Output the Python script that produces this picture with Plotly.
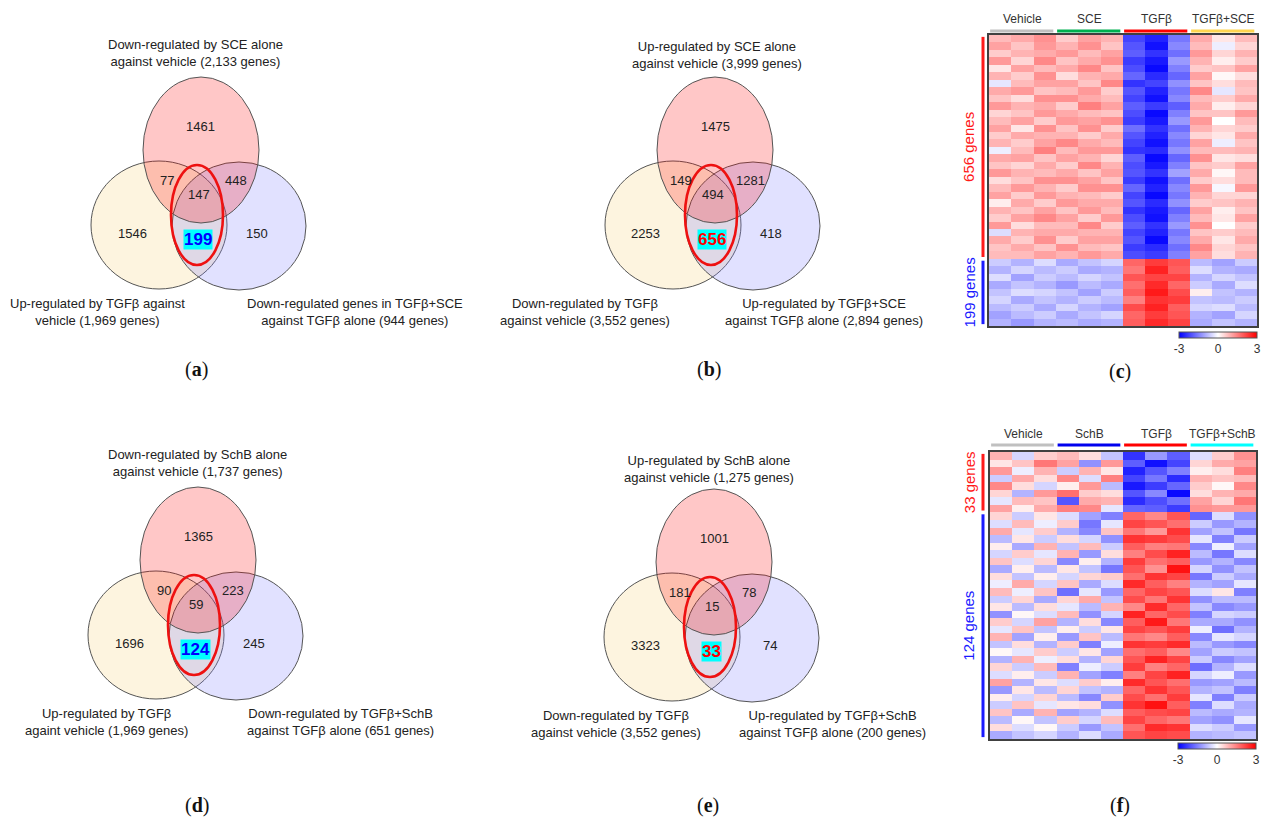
import plotly.graph_objects as go

W, H = 1264, 819


def X(px):
    return px / W


def Y(py):
    return 1 - py / H


# ------------------------------------------------------------------ data
# Venn counts: [top only, top&left, top&right, all three, left only, right only, left&right (highlight)]
VENN_A_LABELS = ["Down-regulated by SCE alone<br>against vehicle (2,133 genes)",
                 "Up-regulated by TGFβ against<br>vehicle (1,969 genes)",
                 "Down-regulated genes in TGFβ+SCE<br>against TGFβ alone (944 genes)"]
VENN_A_COUNTS = [1461, 77, 448, 147, 1546, 150, 199]

VENN_B_LABELS = ["Up-regulated by SCE alone<br>against vehicle (3,999 genes)",
                 "Down-regulated by TGFβ<br>against vehicle (3,552 genes)",
                 "Up-regulated by TGFβ+SCE<br>against TGFβ alone (2,894 genes)"]
VENN_B_COUNTS = [1475, 149, 1281, 494, 2253, 418, 656]

VENN_D_LABELS = ["Down-regulated by SchB alone<br>against vehicle (1,737 genes)",
                 "Up-regulated by TGFβ<br>againt vehicle (1,969 genes)",
                 "Down-regulated by TGFβ+SchB<br>against TGFβ alone (651 genes)"]
VENN_D_COUNTS = [1365, 90, 223, 59, 1696, 245, 124]

VENN_E_LABELS = ["Up-regulated by SchB alone<br>against vehicle (1,275 genes)",
                 "Down-regulated by TGFβ<br>against vehicle (3,552 genes)",
                 "Up-regulated by TGFβ+SchB<br>against TGFβ alone (200 genes)"]
VENN_E_COUNTS = [1001, 181, 78, 15, 3323, 74, 33]

PANEL_LETTERS = ["a", "b", "c", "d", "e", "f"]

HM_C_GROUPS = ["Vehicle", "SCE", "TGFβ", "TGFβ+SCE"]
HM_C_GENE_LABELS = ["656 genes", "199 genes"]
HM_C_UP = [
    [0.8, 1.0, 1.3, 0.6, 1.1, 0.9, -2.2, -2.6, -1.6, 1.0, 0.3, 0.8],
    [1.1, 0.7, 1.2, 0.9, 1.3, 0.7, -2.0, -2.8, -1.4, 0.8, -0.2, 0.5],
    [0.6, 0.9, 1.0, 1.2, 0.8, 1.1, -1.9, -2.4, -1.7, 1.2, 0.5, 0.9],
    [1.2, 0.5, 1.4, 0.7, 1.0, 1.3, -2.3, -2.7, -1.2, 0.9, 0.2, 0.6],
    [0.3, 1.1, 0.8, 1.0, 1.4, 0.7, -2.1, -2.9, -1.5, 0.6, 0.7, 1.1],
    [0.9, 0.6, 1.3, 0.4, 0.9, 1.0, -1.8, -2.5, -1.8, 1.1, 0.1, 0.4],
    [-0.3, 0.8, 1.1, 1.1, 0.7, 1.4, -2.4, -2.2, -1.3, 0.7, 0.4, 0.8],
    [1.0, 1.2, 0.7, 0.8, 1.2, 0.6, -2.0, -2.6, -1.6, 1.4, -0.3, 0.7],
    [0.7, 0.4, 1.3, 1.3, 1.0, 0.8, -2.2, -2.8, -1.4, 0.8, 0.6, 1.0],
    [1.2, 0.9, 1.0, 0.6, 1.5, 1.1, -1.9, -2.3, -1.9, 1.0, 0.2, 0.5],
    [0.5, 0.7, 1.2, 1.0, 0.8, 0.7, -2.1, -2.9, -1.5, 0.7, 0.7, 1.2],
    [0.8, 1.1, 0.6, 1.2, 1.1, 1.3, -2.3, -2.7, -1.2, 1.2, 0.0, 0.8],
    [1.1, 0.3, 1.3, 0.7, 1.3, 0.6, -1.7, -2.4, -1.7, 0.9, 0.5, 0.6],
    [0.6, 1.0, 0.9, 0.9, 0.6, 1.0, -2.0, -2.6, -1.4, 0.5, 0.3, 1.0],
    [0.9, 0.6, 1.1, 1.4, 1.0, 0.8, -2.2, -2.8, -1.6, 1.1, -0.2, 0.7],
    [-0.2, 0.8, 1.5, 0.8, 1.2, 1.2, -2.4, -2.5, -1.3, 0.8, 0.8, 0.9],
    [1.0, 1.1, 0.7, 1.1, 0.9, 0.5, -1.9, -2.9, -1.8, 1.3, 0.3, 0.4],
    [0.7, 0.5, 1.0, 0.6, 1.4, 0.9, -2.1, -2.7, -1.5, 0.7, 0.6, 1.1],
    [1.2, 0.9, 0.8, 1.0, 0.7, 1.1, -2.0, -2.4, -1.1, 1.0, 0.1, 0.8],
    [0.4, 0.7, 1.3, 1.3, 1.1, 0.7, -2.3, -2.8, -1.7, 0.6, 0.4, 0.8],
    [0.8, 1.2, 0.9, 0.6, 1.3, 1.3, -1.8, -2.6, -1.4, 1.2, -0.1, 1.2],
    [1.1, 0.6, 1.2, 0.9, 0.8, 0.6, -2.2, -2.9, -1.6, 0.9, 0.5, 0.5],
    [0.2, 1.0, 0.6, 1.2, 1.0, 1.0, -2.0, -2.5, -1.3, 0.6, 0.7, 0.9],
    [0.9, 0.7, 1.1, 0.7, 1.2, 0.8, -2.4, -2.7, -1.8, 1.1, 0.2, 0.7],
    [0.6, 1.1, 1.4, 1.1, 0.6, 1.2, -2.1, -2.8, -1.5, 0.8, 0.3, 1.1],
    [1.2, 0.4, 0.8, 0.8, 1.4, 0.6, -1.9, -2.4, -1.2, 1.3, 0.0, 0.6],
    [-0.4, 0.9, 1.0, 1.0, 0.9, 0.9, -2.2, -2.6, -1.6, 0.7, 0.6, 0.8],
    [1.0, 0.6, 1.3, 0.6, 1.1, 1.1, -2.0, -2.9, -1.4, 1.0, 0.3, 1.0],
    [0.7, 1.0, 0.7, 1.3, 0.8, 0.7, -2.3, -2.5, -1.7, 1.4, 0.5, 0.7],
    [0.8, 0.8, 1.1, 0.9, 1.2, 1.0, -2.1, -2.3, -1.5, 1.1, 0.4, 0.9],
]
HM_C_DOWN = [
    [-0.6, -0.9, -0.4, -1.0, -0.7, -0.5, 1.8, 2.3, 2.0, -0.8, -1.1, -0.6],
    [-0.9, -0.5, -0.8, -0.6, -1.0, -0.9, 1.6, 2.6, 1.9, -0.4, -0.9, -1.0],
    [-0.4, -1.1, -0.6, -0.8, -0.5, -0.7, 2.0, 2.2, 2.2, -0.9, -0.5, -0.7],
    [-1.0, -0.7, -0.9, -1.2, -0.8, -1.0, 1.7, 2.5, 1.8, -0.6, -1.0, -0.4],
    [-0.7, -0.4, -0.5, -0.7, -1.1, -0.6, 1.9, 2.7, 2.1, 0.2, -0.7, -0.9],
    [-0.5, -1.0, -0.7, -0.9, -0.6, -0.8, 1.5, 2.4, 2.3, -0.7, -0.8, -0.6],
    [-0.8, -0.6, -1.0, -0.5, -0.9, -1.1, 2.1, 2.6, 1.9, -0.5, -0.4, -0.8],
    [-1.1, -0.8, -0.6, -1.0, -0.7, -0.5, 1.8, 2.3, 2.0, -0.9, -1.1, -0.5],
    [-0.9, -1.2, -0.9, -0.8, -1.0, -0.9, 1.9, 2.5, 2.2, -1.0, -0.7, -0.9],
]

HM_F_GROUPS = ["Vehicle", "SchB", "TGFβ", "TGFβ+SchB"]
HM_F_GENE_LABELS = ["33 genes", "124 genes"]
HM_F_UP = [
    [0.9, -0.5, 0.6, 0.8, 0.4, -0.7, -2.4, -1.2, -1.9, -0.4, 0.6, 1.3],
    [0.3, 0.7, 1.6, 1.1, -1.3, 1.2, -1.9, -2.8, -2.2, 0.5, 1.0, 1.1],
    [1.2, -0.2, 0.9, -0.6, 0.9, 0.3, -2.6, -2.0, -1.5, 0.2, 0.4, 1.5],
    [-0.6, 1.0, 0.4, 1.4, -0.4, 1.5, -2.2, -1.6, -2.5, 0.9, 0.7, 0.8],
    [1.4, 0.4, -0.5, 0.2, 1.2, -0.8, -2.7, -2.3, -1.8, 0.6, 0.1, 1.4],
    [0.5, -0.9, 1.2, 1.7, 0.6, 0.4, -2.0, -1.4, -2.9, 0.4, 0.9, 1.0],
    [-0.3, 0.8, 0.7, -2.0, 1.0, 0.9, -2.5, -2.1, -1.7, 1.1, 0.5, 1.6],
    [1.1, 0.2, 1.0, 1.5, 1.4, -0.3, -1.8, -1.9, -2.3, 1.3, 1.2, 1.2],
]
HM_F_DOWN = [
    [0.5, -0.6, 0.3, -0.4, -1.1, -1.5, 1.8, 1.4, 2.0, -1.8, -0.4, -1.3],
    [-0.4, 0.8, -0.2, 0.6, -1.6, -0.3, 2.2, 2.0, 1.7, -0.6, -1.2, -0.9],
    [1.0, -0.3, 0.6, -0.9, -1.4, 0.7, 1.6, 1.2, 2.4, -1.1, -0.7, -1.6],
    [-0.8, 0.3, -0.6, 0.4, -0.5, -1.3, 2.4, 2.3, 2.1, -0.3, -1.5, -0.6],
    [0.2, -1.0, 0.9, -0.7, 0.8, -0.6, 1.9, 1.5, 1.6, -1.4, -0.2, -1.1],
    [-0.5, 0.6, -0.3, 0.9, -1.2, 0.4, 1.5, 2.1, 2.6, -0.8, -1.6, -0.4],
    [0.7, -0.4, 0.5, -1.4, 0.2, -0.9, 2.3, 1.7, 1.9, -1.2, -0.9, -1.4],
    [-1.0, 0.2, -0.8, 0.3, -0.7, -1.6, 2.0, 1.3, 2.8, -0.5, -1.3, -0.7],
    [0.4, -0.7, 0.2, -0.5, 0.5, 0.6, 1.7, 2.4, 2.2, -1.6, -0.6, -1.0],
    [-0.2, 1.0, -0.5, 0.7, -1.0, -0.4, 2.5, 1.9, 1.5, -0.9, -1.1, -0.3],
    [0.8, -0.2, 0.7, -1.7, -0.3, -1.2, 1.8, 2.2, 2.0, -0.4, 0.3, -1.5],
    [-0.6, 0.5, -1.0, 0.5, 1.0, -0.7, 2.1, 1.6, 2.4, -1.3, -0.8, -0.8],
    [0.3, -0.8, 0.4, -0.3, -0.8, 0.9, 1.4, 2.5, 1.8, -0.7, -1.4, -1.2],
    [-1.3, 0.1, -0.4, 0.8, -1.3, -0.5, 2.6, 1.8, 2.1, -1.5, -0.5, -0.6],
    [0.6, -0.5, 1.1, -0.9, 0.4, -1.4, 1.9, 2.7, 1.6, -1.0, -1.0, -1.3],
    [-0.3, 0.7, -0.7, 0.2, -0.6, 0.3, 2.2, 2.0, 2.3, -0.2, -1.7, -0.9],
    [0.9, -1.1, 0.2, -1.2, 0.7, -0.8, 1.6, 1.4, 1.9, -1.4, -0.3, -0.5],
    [-0.7, 0.4, -0.9, 0.6, -1.5, -0.2, 2.4, 2.3, 2.5, -0.8, -1.2, -1.4],
    [0.1, -0.3, 0.6, -0.6, 0.3, -1.1, 1.7, 1.9, 1.4, -1.1, -0.6, -0.7],
    [-0.9, 0.9, -0.2, 0.4, -0.9, 0.5, 2.0, 2.6, 2.2, -0.6, -1.4, -1.1],
    [0.5, -0.6, 0.8, -1.5, -0.2, -0.6, 2.3, 1.5, 1.8, -1.7, -0.9, -0.4],
    [-0.4, 0.2, -0.6, 0.9, -1.1, -1.5, 1.5, 2.2, 2.6, -0.5, -0.2, -1.2],
    [1.1, -0.9, 0.3, -0.4, 0.6, 0.2, 2.5, 2.0, 1.7, -1.2, -1.1, -0.8],
    [-1.2, 0.3, -0.8, 0.5, -0.7, -0.9, 1.8, 2.4, 2.0, -0.9, -0.7, -1.5],
    [0.2, -0.5, 0.5, -0.8, -1.4, 0.6, 2.1, 1.7, 2.3, -0.3, -1.5, -0.6],
    [-0.6, 0.7, -0.3, 0.3, 0.4, -1.3, 2.4, 2.8, 1.9, -1.5, -0.4, -1.0],
    [0.7, -1.0, 0.9, -1.1, -0.9, -0.4, 1.9, 2.1, 2.2, -0.8, -1.0, -0.9],
    [-0.8, 0.1, -0.7, 0.6, -0.5, 0.8, 2.2, 1.8, 1.6, -1.1, -1.3, -0.3],
    [0.4, -0.4, 0.1, -0.6, -1.2, -0.7, 1.7, 2.5, 2.4, -0.4, -0.6, -1.2],
    [-1.0, -0.7, -0.5, -0.9, -0.4, -1.0, 2.0, 2.2, 2.1, -0.9, -0.8, -0.7],
]
COLOR_TICKS = [-3, 0, 3]

# ------------------------------------------------------------------ styles
SANS = "Arial, Liberation Sans, sans-serif"
SERIF = "Times New Roman, Liberation Serif, serif"
TXT = "#222222"

fig = go.Figure()
shapes = []
annotations = []


def note(x, y, text, xref="paper", yref="paper", **kw):
    d = dict(x=x, y=y, xref=xref, yref=yref, text=text, showarrow=False,
             xanchor="center", yanchor="middle")
    d.update(kw)
    annotations.append(d)


# Venn geometry relative to the centre of the top ellipse (layout, pixels)
TOP_E = (0, 0, 58, 73)
LEFT_E = (-42, 75, 68, 64)
RIGHT_E = (38, 76, 67, 64)
RED_E = (-4, 65, 26, 50)
NUM_POS = [(0, -24), (-34, 30), (35, 30), (-2, 44), (-69, 83), (56, 83), (-3, 89)]

venn_panels = [
    dict(labels=VENN_A_LABELS, counts=VENN_A_COUNTS, c=(201, 150), hl="#0000ff",
         top=(-6, -97), bl=(-104, 162), br=(154, 162), letter=PANEL_LETTERS[0], lp=(196, 370)),
    dict(labels=VENN_B_LABELS, counts=VENN_B_COUNTS, c=(715, 150), hl="#ff0000",
         top=(2, -95), bl=(-130, 162), br=(109, 162), letter=PANEL_LETTERS[1], lp=(709, 370)),
    dict(labels=VENN_D_LABELS, counts=VENN_D_COUNTS, c=(198, 560), hl="#0000ff",
         top=(-1, -97), bl=(-92, 162), br=(142, 162), letter=PANEL_LETTERS[3], lp=(197, 805)),
    dict(labels=VENN_E_LABELS, counts=VENN_E_COUNTS, c=(714, 562), hl="#ff0000",
         top=(-5, -93), bl=(-98, 162), br=(118, 162), letter=PANEL_LETTERS[4], lp=(708, 805)),
]


def ellipse(cx, cy, rx, ry, fill, line, width):
    return dict(type="circle", xref="paper", yref="paper",
                x0=X(cx - rx), x1=X(cx + rx), y0=Y(cy + ry), y1=Y(cy - ry),
                fillcolor=fill, line=dict(color=line, width=width), layer="above")


for p in venn_panels:
    cx, cy = p["c"]
    for (dx, dy, rx, ry), fill in [(LEFT_E, "rgba(250,220,150,0.30)"),
                                   (RIGHT_E, "rgba(128,128,255,0.24)"),
                                   (TOP_E, "rgba(255,0,0,0.22)")]:
        shapes.append(ellipse(cx + dx, cy + dy, rx, ry, fill, "#555555", 1))
    dx, dy, rx, ry = RED_E
    shapes.append(ellipse(cx + dx, cy + dy, rx, ry, "rgba(0,0,0,0)", "#ee1111", 2.6))

    for i, (val, (nx, ny)) in enumerate(zip(p["counts"], NUM_POS)):
        if i == 6:
            note(X(cx + nx), Y(cy + ny), f"<b>{val}</b>", bgcolor="#00ffff", borderpad=0,
                 font=dict(family=SANS, size=17, color=p["hl"]))
        else:
            note(X(cx + nx), Y(cy + ny), str(val), font=dict(family=SANS, size=13, color=TXT))
    for lab, key in zip(p["labels"], ["top", "bl", "br"]):
        ox, oy = p[key]
        note(X(cx + ox), Y(cy + oy), lab, align="center",
             font=dict(family=SANS, size=13, color=TXT))
    lx, ly = p["lp"]
    note(X(lx), Y(ly), f"(<b>{p['letter']}</b>)", font=dict(family=SERIF, size=20, color="#111111"))

# ------------------------------------------------------------------ heatmaps
COLORSCALE = [[0, "#0000ff"], [0.5, "#ffffff"], [1, "#ff0000"]]

heat_panels = [
    dict(up=HM_C_UP, down=HM_C_DOWN, groups=HM_C_GROUPS, genes=HM_C_GENE_LABELS,
         xs="x", ys="y", xa="xaxis", ya="yaxis", xd=(989, 1257), yd=(35, 326),
         head_y=19, bar_y=31, bar_colors=["#c0c0c0", "#00b050", "#ff0000", "#ffd54f"],
         cb=(1179, 332), letter=PANEL_LETTERS[2], lp=(1120, 372)),
    dict(up=HM_F_UP, down=HM_F_DOWN, groups=HM_F_GROUPS, genes=HM_F_GENE_LABELS,
         xs="x2", ys="y2", xa="xaxis2", ya="yaxis2", xd=(990, 1256), yd=(452, 739),
         head_y=434, bar_y=445, bar_colors=["#c0c0c0", "#0000ee", "#ff0000", "#00ffff"],
         cb=(1178, 743), letter=PANEL_LETTERS[5], lp=(1120, 805)),
]

layout_axes = {}
for hp in heat_panels:
    z = hp["up"] + hp["down"]
    n_up = len(hp["up"])
    n_all = len(z)
    ncol = len(z[0])
    fig.add_trace(go.Heatmap(
        z=z, x=list(range(ncol)), y=list(range(n_all)),
        xaxis=hp["xs"], yaxis=hp["ys"],
        colorscale=COLORSCALE, zmin=-3, zmax=3, hoverinfo="skip",
        colorbar=dict(orientation="h", x=X(hp["cb"][0]), xanchor="left",
                      y=Y(hp["cb"][1]), yanchor="top",
                      len=78, lenmode="pixels", thickness=6, thicknessmode="pixels",
                      xpad=0, ypad=0, tickvals=COLOR_TICKS,
                      ticktext=[str(t) for t in COLOR_TICKS], ticks="",
                      tickfont=dict(family=SANS, size=12, color="#333333"),
                      outlinewidth=1, outlinecolor="#555555"),
    ))
    layout_axes[hp["xa"]] = dict(domain=[X(hp["xd"][0]), X(hp["xd"][1])], anchor=hp["ys"],
                                 showticklabels=False, ticks="", showgrid=False, zeroline=False,
                                 showline=True, mirror=True, linecolor="#404040", linewidth=2,
                                 range=[-0.5, ncol - 0.5])
    layout_axes[hp["ya"]] = dict(domain=[Y(hp["yd"][1]), Y(hp["yd"][0])], anchor=hp["xs"],
                                 showticklabels=False, ticks="", showgrid=False, zeroline=False,
                                 showline=True, mirror=True, linecolor="#404040", linewidth=2,
                                 range=[n_all - 0.5, -0.5])
    # group header labels and colored bars
    per = ncol // len(hp["groups"])
    for g, (name, col) in enumerate(zip(hp["groups"], hp["bar_colors"])):
        x0 = g * per - 0.5
        x1 = x0 + per
        note((x0 + x1) / 2, Y(hp["head_y"]), name, xref=hp["xs"],
             font=dict(family=SANS, size=12, color="#333333"))
        shapes.append(dict(type="line", xref=hp["xs"], yref="paper",
                           x0=x0 + 0.05, x1=x1 - 0.12, y0=Y(hp["bar_y"]), y1=Y(hp["bar_y"]),
                           line=dict(color=col, width=3)))
    # gene group side bars and labels
    spans = [(-0.5, n_up - 0.5, "#ff1a1a"), (n_up - 0.5, n_all - 0.5, "#1a1aff")]
    for (y0, y1, col), lab in zip(spans, hp["genes"]):
        shapes.append(dict(type="line", xref="paper", yref=hp["ys"],
                           x0=X(983), x1=X(983), y0=y0 + 0.25, y1=y1 - 0.25,
                           line=dict(color=col, width=3)))
        note(X(969), (y0 + y1) / 2, lab, yref=hp["ys"], textangle=-90,
             font=dict(family=SANS, size=15, color=col))
    lx, ly = hp["lp"]
    note(X(lx), Y(ly), f"(<b>{hp['letter']}</b>)", font=dict(family=SERIF, size=20, color="#111111"))

fig.update_layout(
    width=W, height=H, margin=dict(l=0, r=0, t=0, b=0),
    paper_bgcolor="white", plot_bgcolor="white", showlegend=False,
    shapes=shapes, annotations=annotations, **layout_axes,
)

fig.write_html("out.html", config={"displayModeBar": False},
               post_script="document.body.style.margin='0';document.body.style.overflow='hidden';")
